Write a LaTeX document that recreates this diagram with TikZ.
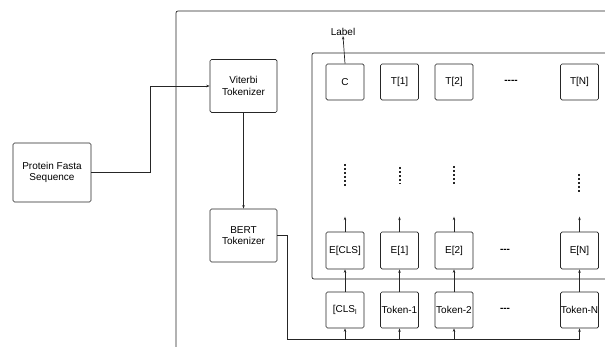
\documentclass[tikz,border=0pt]{standalone}
\usepackage{fontspec}
\setmainfont{Liberation Sans}
\usetikzlibrary{calc}
\usetikzlibrary{arrows.meta}

\begin{document}
\begin{tikzpicture}[x=1pt, y=-1pt, >={Stealth[length=3.5pt,width=2.5pt]},
  line width=0.7pt, draw=black!85,
  blk/.style={draw, rounded corners=1.5pt, align=center, inner sep=0pt, font=\fontsize{10}{11.5}\selectfont},
  bigblk/.style={blk, minimum width=67pt, minimum height=53pt},
  cell/.style={blk, minimum width=38pt, minimum height=36pt},
  txt/.style={font=\fontsize{10}{11.5}\selectfont, inner sep=0pt},
  vdots/.style={line width=1.5pt, dash pattern=on 2.5pt off 1.5pt}]
\useasboundingbox (0,0) rectangle (605,347);
\draw[rounded corners=2pt] (176,347) -- (176,11) -- (605,11);
\draw[rounded corners=2pt] (605,53) -- (312,53) -- (312,279) -- (605,279);
\node[name=fasta, blk, minimum width=78pt, minimum height=59pt] at (52,172.5) {Protein Fasta\\Sequence};
\node[name=viterbi, bigblk] at (243.5,86) {Viterbi\\Tokenizer};
\node[name=bert, bigblk] at (243.5,235.5) {BERT\\Tokenizer};
\node[name=c, cell] at (345,82) {C};
\node[name=t1, cell] at (399.5,82) {T[1]};
\node[name=t2, cell] at (454,82) {T[2]};
\node[name=tn, cell] at (579.5,82) {T[N]};
\node[name=tdots, txt, font=\bfseries] at (511,82) {-{}-{}-{}-};
\node[name=ecls, cell, minimum height=37pt] at (345,250.5) {E[CLS]};
\node[name=e1, cell, minimum height=37pt] at (399.5,250.5) {E[1]};
\node[name=e2, cell, minimum height=37pt] at (454,250.5) {E[2]};
\node[name=en, cell, minimum height=37pt] at (579.5,250.5) {E[N]};
\node[name=edots, txt, font=\bfseries] at (505,250.5) {-{}-{}-};
\node[name=cls, cell] at (345,310) {[CLS$_\mathrm{l}$};
\node[name=tok1, cell] at (399.5,310) {Token-1};
\node[name=tok2, cell] at (454,310) {Token-2};
\node[name=tokn, cell] at (579.5,310) {Token-N};
\node[name=kdots, txt, font=\bfseries] at (505,310) {-{}-{}-};
\node[name=label, txt] at (343,32) {Label};
\coordinate (bend) at (150,0);
\coordinate (feed) at (287,339);
\draw[->] (fasta.east) -| (bend |- viterbi.west) -- (viterbi.west);
\draw[->] (viterbi.south) -- (bert.north);
\draw (bert.east) -| (feed) -- (feed -| tokn.south);
\foreach \n in {cls,tok1,tok2,tokn}
  \draw[->] (feed -| \n.south) -- (\n.south);
\draw[->] (cls.north) -- (ecls.south);
\draw[->] (tok1.north) -- (e1.south);
\draw[->] (tok2.north) -- (e2.south);
\draw[->] (tokn.north) -- (en.south);
\foreach \n in {ecls,e1,e2,en}
  \draw[->] (\n.north) -- ++(0,-15);
\draw[->] (c.north) -- (label.south);
\draw[vdots] (345,164) -- (345,187);
\draw[vdots] (400,167) -- (400,184);
\draw[vdots] (454,166) -- (454,186);
\draw[vdots, dash pattern=on 2pt off 2pt] (579,174) -- (579,192);
\end{tikzpicture}
\end{document}
